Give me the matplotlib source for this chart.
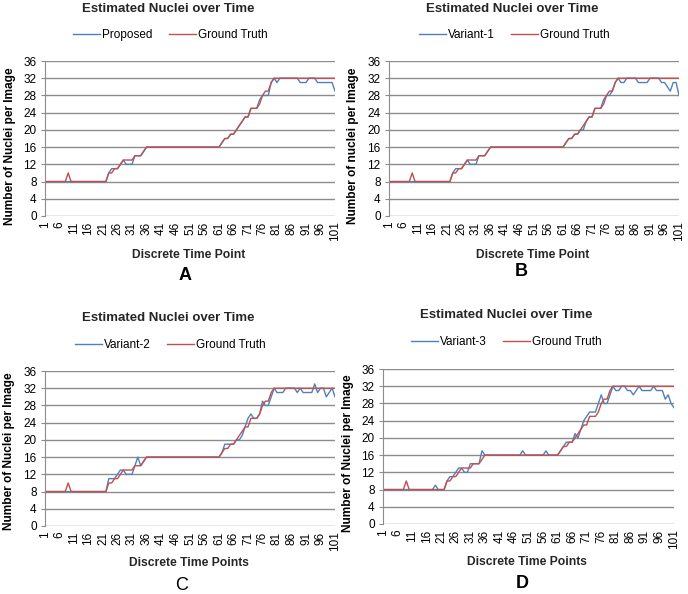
import matplotlib
matplotlib.use("Agg")
import matplotlib.pyplot as plt
import numpy as np

plt.rcParams["font.family"] = ["Liberation Sans", "DejaVu Sans"]

W, H = 688, 594

time_points = np.arange(1, 102)
tick_points = list(range(1, 102, 5))
y_ticks = list(range(0, 37, 4))

ground_truth = [
    8, 8, 8, 8, 8, 8, 8, 8, 10, 8,
    8, 8, 8, 8, 8, 8, 8, 8, 8, 8,
    8, 8, 10, 10, 11, 11, 12, 13, 13, 13,
    13, 14, 14, 14, 15, 16, 16, 16, 16, 16,
    16, 16, 16, 16, 16, 16, 16, 16, 16, 16,
    16, 16, 16, 16, 16, 16, 16, 16, 16, 16,
    16, 17, 18, 18, 19, 19, 20, 21, 22, 23,
    23, 25, 25, 25, 26, 28, 29, 29, 31, 32,
    32, 32, 32, 32, 32, 32, 32, 32, 32, 32,
    32, 32, 32, 32, 32, 32, 32, 32, 32, 32,
    32,
]

proposed = [
    8, 8, 8, 8, 8, 8, 8, 8, 8, 8,
    8, 8, 8, 8, 8, 8, 8, 8, 8, 8,
    8, 8, 10, 11, 11, 11, 12, 13, 12, 12,
    12, 14, 14, 14, 15, 16, 16, 16, 16, 16,
    16, 16, 16, 16, 16, 16, 16, 16, 16, 16,
    16, 16, 16, 16, 16, 16, 16, 16, 16, 16,
    16, 17, 18, 18, 19, 19, 20, 21, 22, 23,
    23, 25, 25, 25, 27, 28, 28, 28, 31, 32,
    31, 32, 32, 32, 32, 32, 32, 32, 31, 31,
    31, 32, 32, 32, 31, 31, 31, 31, 31, 31,
    29,
]

variant_1 = [
    8, 8, 8, 8, 8, 8, 8, 8, 8, 8,
    8, 8, 8, 8, 8, 8, 8, 8, 8, 8,
    8, 8, 10, 11, 11, 11, 12, 13, 12, 12,
    12, 14, 14, 14, 15, 16, 16, 16, 16, 16,
    16, 16, 16, 16, 16, 16, 16, 16, 16, 16,
    16, 16, 16, 16, 16, 16, 16, 16, 16, 16,
    16, 17, 18, 18, 19, 19, 20, 20, 22, 23,
    23, 25, 25, 25, 27, 28, 28, 29, 31, 32,
    31, 31, 32, 32, 32, 32, 31, 31, 31, 31,
    32, 32, 32, 32, 31, 31, 30, 29, 31, 31,
    28,
]

variant_2 = [
    8, 8, 8, 8, 8, 8, 8, 8, 8, 8,
    8, 8, 8, 8, 8, 8, 8, 8, 8, 8,
    8, 8, 11, 11, 11, 12, 13, 13, 12, 12,
    12, 14, 16, 14, 15, 16, 16, 16, 16, 16,
    16, 16, 16, 16, 16, 16, 16, 16, 16, 16,
    16, 16, 16, 16, 16, 16, 16, 16, 16, 16,
    16, 17, 19, 19, 19, 19, 20, 20, 21, 23,
    25, 26, 25, 25, 26, 29, 28, 28, 30, 32,
    31, 31, 31, 32, 32, 32, 32, 31, 32, 31,
    31, 31, 31, 33, 31, 32, 32, 30, 31, 32,
    30,
]

variant_3 = [
    8, 8, 8, 8, 8, 8, 8, 8, 8, 8,
    8, 8, 8, 8, 8, 8, 8, 8, 9, 8,
    8, 8, 10, 11, 11, 12, 13, 13, 12, 12,
    14, 14, 14, 14, 17, 16, 16, 16, 16, 16,
    16, 16, 16, 16, 16, 16, 16, 16, 17, 16,
    16, 16, 16, 16, 16, 16, 17, 16, 16, 16,
    16, 17, 18, 19, 19, 19, 21, 20, 22, 24,
    25, 26, 26, 26, 28, 30, 28, 28, 30, 32,
    31, 31, 32, 32, 31, 31, 30, 31, 32, 31,
    31, 31, 31, 32, 31, 31, 31, 29, 30, 28,
    27,
]

BLUE = "#4F81BD"
RED = "#C0504D"
GRID = "#8C8C8C"

fig = plt.figure(figsize=(W / 100, H / 100), dpi=100)


def fx(x, y):
    # pixel position (from top-left) -> figure fraction
    return x / W, 1 - y / H


def panel(box, est, name, ylabel, xlabel, title_at, legend_at, xlabel_at,
          letter, letter_at, letter_weight, ylabel_at):
    x0, y0, x1, y1 = box
    ax = fig.add_axes([x0 / W, 1 - y1 / H, (x1 - x0) / W, (y1 - y0) / H])
    ax.plot(time_points, est, color=BLUE, lw=1.0, label=name)
    ax.plot(time_points, ground_truth, color=RED, lw=1.0, label="Ground Truth")
    ax.set_xlim(1, 101)
    ax.set_ylim(0, 36)
    ax.set_yticks(y_ticks)
    ax.set_xticks(tick_points)
    ax.set_xticklabels([str(t) for t in tick_points], rotation=90, fontsize=8.5)
    ax.tick_params(axis="x", length=0, pad=4)
    ax.tick_params(axis="y", length=3, color=GRID, labelsize=8.5, pad=3)
    ax.grid(axis="y", color=GRID, lw=1.0)
    ax.set_axisbelow(True)
    for s in ("top", "right", "bottom"):
        ax.spines[s].set_visible(False)
    ax.spines["left"].set_color(GRID)

    fig.text(*fx(*title_at), "Estimated Nuclei over Time", ha="center",
             va="center", fontsize=9.5, fontweight="bold", color="#262626")
    fig.text(*fx(*xlabel_at), xlabel, ha="center", va="center",
             fontsize=8.7, fontweight="bold", color="#262626")
    fig.text(*fx(*ylabel_at), ylabel, ha="center", va="center", rotation=90,
             fontsize=8.6, fontweight="bold", color="black")
    fig.text(*fx(*letter_at), letter, ha="center", va="center",
             fontsize=13, fontweight=letter_weight)
    ax.legend(loc="center", bbox_to_anchor=fx(*legend_at),
              bbox_transform=fig.transFigure, ncol=2, frameon=False,
              fontsize=8.5, handlelength=2.3, handletextpad=0.15,
              columnspacing=1.4, borderpad=0, borderaxespad=0)
    return ax


panel((45, 61, 335, 216), proposed, "Proposed", "Number of Nuclei per Image",
      "Discrete Time Point", (168, 9), (170, 35), (189, 255), "A", (185, 275),
      "bold", (10, 146))
panel((389, 61, 679, 216), variant_1, "Variant-1", "Number of nuclei per Image",
      "Discrete Time Point", (512, 9), (514, 35), (533, 255), "B", (521, 272),
      "bold", (353, 146))
panel((45, 371, 335, 526), variant_2, "Variant-2", "Number of Nuclei per Image",
      "Discrete Time Points", (168, 318), (170, 345), (189, 563), "C", (182, 585),
      "normal", (9, 451))
panel((383, 369, 674, 524), variant_3, "Variant-3", "Number of Nuclei per Image",
      "Discrete Time Points", (506, 315), (506, 342), (527, 562), "D", (522, 584),
      "bold", (348, 453))

fig.savefig("out.png", dpi=100)
